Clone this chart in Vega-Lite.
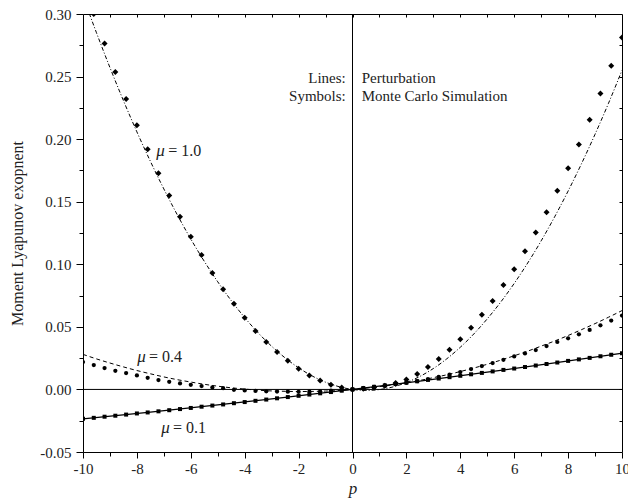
{
  "$schema": "https://vega.github.io/schema/vega-lite/v6.json",
  "width": 539,
  "height": 438,
  "autosize": "none",
  "padding": {"left": 83, "top": 14, "right": 6, "bottom": 50},
  "background": "white",
  "config": {
    "view": {"stroke": "black", "strokeWidth": 1},
    "axis": {"grid": false, "domain": false, "tickColor": "black", "tickWidth": 1, "labelFont": "Liberation Serif", "labelFontSize": 15, "labelColor": "#222", "titleFont": "Liberation Serif", "titleFontSize": 16, "titleFontWeight": "normal", "titleColor": "#222", "labelFlush": false, "labelOverlap": false}
  },
  "datasets": {
    "lines": [
      {"p": -10, "y": 0.3142, "mu": "1.0"}, {"p": -9.5, "y": 0.2850, "mu": "1.0"}, {"p": -9, "y": 0.2572, "mu": "1.0"}, {"p": -8.5, "y": 0.2308, "mu": "1.0"}, {"p": -8, "y": 0.2058, "mu": "1.0"}, {"p": -7.5, "y": 0.1823, "mu": "1.0"}, {"p": -7, "y": 0.1602, "mu": "1.0"}, {"p": -6.5, "y": 0.1395, "mu": "1.0"}, {"p": -6, "y": 0.1202, "mu": "1.0"}, {"p": -5.5, "y": 0.1024, "mu": "1.0"}, {"p": -5, "y": 0.0860, "mu": "1.0"}, {"p": -4.5, "y": 0.0710, "mu": "1.0"}, {"p": -4, "y": 0.0574, "mu": "1.0"}, {"p": -3.5, "y": 0.0452, "mu": "1.0"}, {"p": -3, "y": 0.0345, "mu": "1.0"}, {"p": -2.5, "y": 0.0252, "mu": "1.0"}, {"p": -2, "y": 0.0173, "mu": "1.0"}, {"p": -1.5, "y": 0.0108, "mu": "1.0"}, {"p": -1, "y": 0.0058, "mu": "1.0"}, {"p": -0.5, "y": 0.0022, "mu": "1.0"}, {"p": 0, "y": 0, "mu": "1.0"}, {"p": 0.5, "y": -0.0008, "mu": "1.0"}, {"p": 1, "y": -0.0001, "mu": "1.0"}, {"p": 1.5, "y": 0.0020, "mu": "1.0"}, {"p": 2, "y": 0.0055, "mu": "1.0"}, {"p": 2.5, "y": 0.0104, "mu": "1.0"}, {"p": 3, "y": 0.0167, "mu": "1.0"}, {"p": 3.5, "y": 0.0245, "mu": "1.0"}, {"p": 4, "y": 0.0337, "mu": "1.0"}, {"p": 4.5, "y": 0.0443, "mu": "1.0"}, {"p": 5, "y": 0.0564, "mu": "1.0"}, {"p": 5.5, "y": 0.0698, "mu": "1.0"}, {"p": 6, "y": 0.0847, "mu": "1.0"}, {"p": 6.5, "y": 0.1010, "mu": "1.0"}, {"p": 7, "y": 0.1187, "mu": "1.0"}, {"p": 7.5, "y": 0.1379, "mu": "1.0"}, {"p": 8, "y": 0.1585, "mu": "1.0"}, {"p": 8.5, "y": 0.1805, "mu": "1.0"}, {"p": 9, "y": 0.2039, "mu": "1.0"}, {"p": 9.5, "y": 0.2287, "mu": "1.0"}, {"p": 10, "y": 0.2550, "mu": "1.0"},
      {"p": -10, "y": 0.0280, "mu": "0.4"}, {"p": -9.5, "y": 0.0244, "mu": "0.4"}, {"p": -9, "y": 0.0211, "mu": "0.4"}, {"p": -8.5, "y": 0.0180, "mu": "0.4"}, {"p": -8, "y": 0.0151, "mu": "0.4"}, {"p": -7.5, "y": 0.0125, "mu": "0.4"}, {"p": -7, "y": 0.0100, "mu": "0.4"}, {"p": -6.5, "y": 0.0078, "mu": "0.4"}, {"p": -6, "y": 0.0059, "mu": "0.4"}, {"p": -5.5, "y": 0.0041, "mu": "0.4"}, {"p": -5, "y": 0.0026, "mu": "0.4"}, {"p": -4.5, "y": 0.0013, "mu": "0.4"}, {"p": -4, "y": 0.0003, "mu": "0.4"}, {"p": -3.5, "y": -0.0006, "mu": "0.4"}, {"p": -3, "y": -0.0012, "mu": "0.4"}, {"p": -2.5, "y": -0.0015, "mu": "0.4"}, {"p": -2, "y": -0.0017, "mu": "0.4"}, {"p": -1.5, "y": -0.0016, "mu": "0.4"}, {"p": -1, "y": -0.0013, "mu": "0.4"}, {"p": -0.5, "y": -0.0008, "mu": "0.4"}, {"p": 0, "y": 0, "mu": "0.4"}, {"p": 0.5, "y": 0.0010, "mu": "0.4"}, {"p": 1, "y": 0.0022, "mu": "0.4"}, {"p": 1.5, "y": 0.0037, "mu": "0.4"}, {"p": 2, "y": 0.0053, "mu": "0.4"}, {"p": 2.5, "y": 0.0072, "mu": "0.4"}, {"p": 3, "y": 0.0094, "mu": "0.4"}, {"p": 3.5, "y": 0.0117, "mu": "0.4"}, {"p": 4, "y": 0.0143, "mu": "0.4"}, {"p": 4.5, "y": 0.0171, "mu": "0.4"}, {"p": 5, "y": 0.0201, "mu": "0.4"}, {"p": 5.5, "y": 0.0234, "mu": "0.4"}, {"p": 6, "y": 0.0269, "mu": "0.4"}, {"p": 6.5, "y": 0.0306, "mu": "0.4"}, {"p": 7, "y": 0.0346, "mu": "0.4"}, {"p": 7.5, "y": 0.0387, "mu": "0.4"}, {"p": 8, "y": 0.0431, "mu": "0.4"}, {"p": 8.5, "y": 0.0478, "mu": "0.4"}, {"p": 9, "y": 0.0526, "mu": "0.4"}, {"p": 9.5, "y": 0.0577, "mu": "0.4"}, {"p": 10, "y": 0.0630, "mu": "0.4"},
      {"p": -10, "y": -0.0235, "mu": "0.1"}, {"p": -7.5, "y": -0.0181, "mu": "0.1"}, {"p": -5, "y": -0.0124, "mu": "0.1"}, {"p": -2.5, "y": -0.0064, "mu": "0.1"}, {"p": 0, "y": 0, "mu": "0.1"}, {"p": 2.5, "y": 0.0067, "mu": "0.1"}, {"p": 5, "y": 0.0138, "mu": "0.1"}, {"p": 7.5, "y": 0.0212, "mu": "0.1"}, {"p": 10, "y": 0.0290, "mu": "0.1"}
    ],
    "pts": [
      {"p": -9.6, "y": 0.300, "mu": "1.0"}, {"p": -9.2, "y": 0.2765, "mu": "1.0"}, {"p": -8.8, "y": 0.2536, "mu": "1.0"}, {"p": -8.4, "y": 0.232, "mu": "1.0"}, {"p": -8.0, "y": 0.2112, "mu": "1.0"}, {"p": -7.6, "y": 0.192, "mu": "1.0"}, {"p": -7.2, "y": 0.1728, "mu": "1.0"}, {"p": -6.8, "y": 0.155, "mu": "1.0"}, {"p": -6.4, "y": 0.138, "mu": "1.0"}, {"p": -6.0, "y": 0.122, "mu": "1.0"}, {"p": -5.6, "y": 0.1075, "mu": "1.0"}, {"p": -5.2, "y": 0.093, "mu": "1.0"}, {"p": -4.8, "y": 0.080, "mu": "1.0"}, {"p": -4.4, "y": 0.0685, "mu": "1.0"}, {"p": -4.0, "y": 0.0573, "mu": "1.0"}, {"p": -3.6, "y": 0.0467, "mu": "1.0"}, {"p": -3.2, "y": 0.0379, "mu": "1.0"}, {"p": -2.8, "y": 0.0299, "mu": "1.0"}, {"p": -2.4, "y": 0.0229, "mu": "1.0"}, {"p": -2.0, "y": 0.0165, "mu": "1.0"}, {"p": -1.6, "y": 0.0112, "mu": "1.0"}, {"p": -1.2, "y": 0.0072, "mu": "1.0"}, {"p": -0.8, "y": 0.0037, "mu": "1.0"}, {"p": -0.4, "y": 0.0016, "mu": "1.0"}, {"p": 0, "y": 0, "mu": "1.0"}, {"p": 0.4, "y": 0.0005, "mu": "1.0"}, {"p": 0.8, "y": 0.0015, "mu": "1.0"}, {"p": 1.2, "y": 0.003, "mu": "1.0"}, {"p": 1.6, "y": 0.0052, "mu": "1.0"}, {"p": 2.0, "y": 0.008, "mu": "1.0"}, {"p": 2.4, "y": 0.0123, "mu": "1.0"}, {"p": 2.8, "y": 0.0179, "mu": "1.0"}, {"p": 3.2, "y": 0.0243, "mu": "1.0"}, {"p": 3.6, "y": 0.0317, "mu": "1.0"}, {"p": 4.0, "y": 0.040, "mu": "1.0"}, {"p": 4.4, "y": 0.0493, "mu": "1.0"}, {"p": 4.8, "y": 0.0597, "mu": "1.0"}, {"p": 5.2, "y": 0.0707, "mu": "1.0"}, {"p": 5.6, "y": 0.0835, "mu": "1.0"}, {"p": 6.0, "y": 0.096, "mu": "1.0"}, {"p": 6.4, "y": 0.1104, "mu": "1.0"}, {"p": 6.8, "y": 0.1253, "mu": "1.0"}, {"p": 7.2, "y": 0.1416, "mu": "1.0"}, {"p": 7.6, "y": 0.1587, "mu": "1.0"}, {"p": 8.0, "y": 0.1767, "mu": "1.0"}, {"p": 8.4, "y": 0.1957, "mu": "1.0"}, {"p": 8.8, "y": 0.2155, "mu": "1.0"}, {"p": 9.2, "y": 0.2365, "mu": "1.0"}, {"p": 9.6, "y": 0.2587, "mu": "1.0"}, {"p": 10, "y": 0.2813, "mu": "1.0"},
      {"p": -10, "y": 0.0219, "mu": "0.4"}, {"p": -9.6, "y": 0.0195, "mu": "0.4"}, {"p": -9.2, "y": 0.0171, "mu": "0.4"}, {"p": -8.8, "y": 0.0149, "mu": "0.4"}, {"p": -8.4, "y": 0.0131, "mu": "0.4"}, {"p": -8.0, "y": 0.0112, "mu": "0.4"}, {"p": -7.6, "y": 0.0093, "mu": "0.4"}, {"p": -7.2, "y": 0.0075, "mu": "0.4"}, {"p": -6.8, "y": 0.0061, "mu": "0.4"}, {"p": -6.4, "y": 0.0048, "mu": "0.4"}, {"p": -6.0, "y": 0.0037, "mu": "0.4"}, {"p": -5.6, "y": 0.0027, "mu": "0.4"}, {"p": -5.2, "y": 0.0016, "mu": "0.4"}, {"p": -4.8, "y": 0.001, "mu": "0.4"}, {"p": -4.4, "y": -0.0003, "mu": "0.4"}, {"p": -4.0, "y": -0.0008, "mu": "0.4"}, {"p": -3.6, "y": -0.0012, "mu": "0.4"}, {"p": -3.2, "y": -0.0015, "mu": "0.4"}, {"p": -2.8, "y": -0.0017, "mu": "0.4"}, {"p": -2.4, "y": -0.0018, "mu": "0.4"}, {"p": -2.0, "y": -0.0019, "mu": "0.4"}, {"p": -1.6, "y": -0.0018, "mu": "0.4"}, {"p": -1.2, "y": -0.0015, "mu": "0.4"}, {"p": -0.8, "y": -0.0010, "mu": "0.4"}, {"p": -0.4, "y": -0.0005, "mu": "0.4"}, {"p": 0, "y": 0, "mu": "0.4"}, {"p": 0.4, "y": 0.0008, "mu": "0.4"}, {"p": 0.8, "y": 0.0018, "mu": "0.4"}, {"p": 1.2, "y": 0.003, "mu": "0.4"}, {"p": 1.6, "y": 0.0042, "mu": "0.4"}, {"p": 2.0, "y": 0.0053, "mu": "0.4"}, {"p": 2.4, "y": 0.0066, "mu": "0.4"}, {"p": 2.8, "y": 0.0083, "mu": "0.4"}, {"p": 3.2, "y": 0.0101, "mu": "0.4"}, {"p": 3.6, "y": 0.0119, "mu": "0.4"}, {"p": 4.0, "y": 0.0139, "mu": "0.4"}, {"p": 4.4, "y": 0.0163, "mu": "0.4"}, {"p": 4.8, "y": 0.0187, "mu": "0.4"}, {"p": 5.2, "y": 0.0211, "mu": "0.4"}, {"p": 5.6, "y": 0.0237, "mu": "0.4"}, {"p": 6.0, "y": 0.0264, "mu": "0.4"}, {"p": 6.4, "y": 0.0288, "mu": "0.4"}, {"p": 6.8, "y": 0.0315, "mu": "0.4"}, {"p": 7.2, "y": 0.0347, "mu": "0.4"}, {"p": 7.6, "y": 0.0379, "mu": "0.4"}, {"p": 8.0, "y": 0.0408, "mu": "0.4"}, {"p": 8.4, "y": 0.044, "mu": "0.4"}, {"p": 8.8, "y": 0.0475, "mu": "0.4"}, {"p": 9.2, "y": 0.0512, "mu": "0.4"}, {"p": 9.6, "y": 0.055, "mu": "0.4"}, {"p": 10, "y": 0.059, "mu": "0.4"},
      {"p": -10, "y": -0.0235, "mu": "0.1"}, {"p": -9.6, "y": -0.0227, "mu": "0.1"}, {"p": -9.2, "y": -0.0218, "mu": "0.1"}, {"p": -8.8, "y": -0.0210, "mu": "0.1"}, {"p": -8.4, "y": -0.0201, "mu": "0.1"}, {"p": -8.0, "y": -0.0192, "mu": "0.1"}, {"p": -7.6, "y": -0.0184, "mu": "0.1"}, {"p": -7.2, "y": -0.0175, "mu": "0.1"}, {"p": -6.8, "y": -0.0166, "mu": "0.1"}, {"p": -6.4, "y": -0.0157, "mu": "0.1"}, {"p": -6.0, "y": -0.0148, "mu": "0.1"}, {"p": -5.6, "y": -0.0138, "mu": "0.1"}, {"p": -5.2, "y": -0.0129, "mu": "0.1"}, {"p": -4.8, "y": -0.0120, "mu": "0.1"}, {"p": -4.4, "y": -0.0110, "mu": "0.1"}, {"p": -4.0, "y": -0.0101, "mu": "0.1"}, {"p": -3.6, "y": -0.0091, "mu": "0.1"}, {"p": -3.2, "y": -0.0081, "mu": "0.1"}, {"p": -2.8, "y": -0.0071, "mu": "0.1"}, {"p": -2.4, "y": -0.0061, "mu": "0.1"}, {"p": -2.0, "y": -0.0051, "mu": "0.1"}, {"p": -1.6, "y": -0.0041, "mu": "0.1"}, {"p": -1.2, "y": -0.0031, "mu": "0.1"}, {"p": -0.8, "y": -0.0021, "mu": "0.1"}, {"p": -0.4, "y": -0.0010, "mu": "0.1"}, {"p": 0, "y": 0, "mu": "0.1"}, {"p": 0.4, "y": 0.0011, "mu": "0.1"}, {"p": 0.8, "y": 0.0021, "mu": "0.1"}, {"p": 1.2, "y": 0.0032, "mu": "0.1"}, {"p": 1.6, "y": 0.0043, "mu": "0.1"}, {"p": 2.0, "y": 0.0054, "mu": "0.1"}, {"p": 2.4, "y": 0.0065, "mu": "0.1"}, {"p": 2.8, "y": 0.0076, "mu": "0.1"}, {"p": 3.2, "y": 0.0087, "mu": "0.1"}, {"p": 3.6, "y": 0.0098, "mu": "0.1"}, {"p": 4.0, "y": 0.0109, "mu": "0.1"}, {"p": 4.4, "y": 0.0121, "mu": "0.1"}, {"p": 4.8, "y": 0.0132, "mu": "0.1"}, {"p": 5.2, "y": 0.0144, "mu": "0.1"}, {"p": 5.6, "y": 0.0156, "mu": "0.1"}, {"p": 6.0, "y": 0.0167, "mu": "0.1"}, {"p": 6.4, "y": 0.0179, "mu": "0.1"}, {"p": 6.8, "y": 0.0191, "mu": "0.1"}, {"p": 7.2, "y": 0.0203, "mu": "0.1"}, {"p": 7.6, "y": 0.0215, "mu": "0.1"}, {"p": 8.0, "y": 0.0228, "mu": "0.1"}, {"p": 8.4, "y": 0.0240, "mu": "0.1"}, {"p": 8.8, "y": 0.0252, "mu": "0.1"}, {"p": 9.2, "y": 0.0265, "mu": "0.1"}, {"p": 9.6, "y": 0.0277, "mu": "0.1"}, {"p": 10, "y": 0.0290, "mu": "0.1"}
    ],
    "mulabels": [
      {"p": -7.28, "y": 0.1906, "text": "μ"},
      {"p": -7.99, "y": 0.0256, "text": "μ"},
      {"p": -7.1, "y": -0.0312, "text": "μ"}
    ],
    "vallabels": [
      {"p": -6.84, "y": 0.1906, "text": "= 1.0"},
      {"p": -7.55, "y": 0.0256, "text": "= 0.4"},
      {"p": -6.66, "y": -0.0312, "text": "= 0.1"}
    ],
    "leftnotes": [
      {"p": -0.25, "y": 0.2488, "text": "Lines:"},
      {"p": -0.25, "y": 0.2344, "text": "Symbols:"}
    ],
    "rightnotes": [
      {"p": 0.34, "y": 0.2488, "text": "Perturbation"},
      {"p": 0.34, "y": 0.2344, "text": "Monte Carlo Simulation"}
    ]
  },
  "resolve": {"axis": {"x": "independent", "y": "independent"}},
  "layer": [
    {
      "data": {"values": [{"p": 0}]},
      "mark": {"type": "rule", "color": "black", "strokeWidth": 1},
      "encoding": {"x": {"field": "p", "type": "quantitative", "scale": {"domain": [-10, 10], "nice": false, "zero": false}, "axis": null}}
    },
    {
      "data": {"values": [{"y": 0}]},
      "mark": {"type": "rule", "color": "black", "strokeWidth": 1},
      "encoding": {"y": {"field": "y", "type": "quantitative", "scale": {"domain": [-0.05, 0.3], "nice": false, "zero": false}, "axis": null}}
    },
    {
      "data": {"name": "lines"},
      "transform": [{"filter": "datum.mu === '1.0'"}],
      "mark": {"type": "line", "color": "black", "strokeWidth": 1, "strokeDash": [4, 2, 1, 2], "clip": true, "interpolate": "monotone"},
      "encoding": {
        "x": {"field": "p", "type": "quantitative", "scale": {"domain": [-10, 10], "nice": false, "zero": false},
          "axis": {"orient": "bottom", "values": [-10, -8, -6, -4, -2, 0, 2, 4, 6, 8, 10], "format": "d", "tickSize": 6, "labelPadding": 3, "title": "p", "titleFontStyle": "italic", "titleFontSize": 17, "titlePadding": 4, "labelExpr": "replace(datum.label, '\u2212', '-')"}},
        "y": {"field": "y", "type": "quantitative", "scale": {"domain": [-0.05, 0.3], "nice": false, "zero": false},
          "axis": {"orient": "left", "values": [-0.05, 0, 0.05, 0.1, 0.15, 0.2, 0.25, 0.3], "format": ".2f", "tickSize": 7, "labelPadding": 5, "title": "Moment Lyapunov exopnent", "titlePadding": 14, "labelExpr": "replace(datum.label, '\u2212', '-')"}}
      }
    },
    {
      "data": {"name": "lines"},
      "transform": [{"filter": "datum.mu === '0.4'"}],
      "mark": {"type": "line", "color": "black", "strokeWidth": 1, "strokeDash": [4, 3], "clip": true, "interpolate": "monotone"},
      "encoding": {
        "x": {"field": "p", "type": "quantitative", "scale": {"domain": [-10, 10], "nice": false, "zero": false},
          "axis": {"orient": "bottom", "values": [-9, -7, -5, -3, -1, 1, 3, 5, 7, 9], "tickSize": 4, "labels": false, "title": null}},
        "y": {"field": "y", "type": "quantitative", "scale": {"domain": [-0.05, 0.3], "nice": false, "zero": false},
          "axis": {"orient": "left", "values": [-0.025, 0.025, 0.075, 0.125, 0.175, 0.225, 0.275], "tickSize": 4, "labels": false, "title": null}}
      }
    },
    {
      "data": {"name": "lines"},
      "transform": [{"filter": "datum.mu === '0.1'"}],
      "mark": {"type": "line", "color": "black", "strokeWidth": 1.2, "clip": true, "interpolate": "monotone"},
      "encoding": {
        "x": {"field": "p", "type": "quantitative", "scale": {"domain": [-10, 10], "nice": false, "zero": false},
          "axis": {"orient": "top", "values": [-9, -8, -7, -6, -5, -4, -3, -2, -1, 0, 1, 2, 3, 4, 5, 6, 7, 8, 9], "tickSize": -3, "labels": false, "title": null}},
        "y": {"field": "y", "type": "quantitative", "scale": {"domain": [-0.05, 0.3], "nice": false, "zero": false},
          "axis": {"orient": "right", "values": [-0.025, 0, 0.025, 0.05, 0.075, 0.1, 0.125, 0.15, 0.175, 0.2, 0.225, 0.25, 0.275], "tickSize": -3, "labels": false, "title": null}}
      }
    },
    {
      "data": {"name": "pts"},
      "transform": [{"filter": "datum.mu === '1.0'"}],
      "mark": {"type": "point", "shape": "diamond", "filled": true, "color": "black", "opacity": 1, "size": 36, "clip": true},
      "encoding": {
        "x": {"field": "p", "type": "quantitative", "scale": {"domain": [-10, 10], "nice": false, "zero": false}, "axis": null},
        "y": {"field": "y", "type": "quantitative", "scale": {"domain": [-0.05, 0.3], "nice": false, "zero": false}, "axis": null}
      }
    },
    {
      "data": {"name": "pts"},
      "transform": [{"filter": "datum.mu === '0.4'"}],
      "mark": {"type": "point", "shape": "circle", "filled": true, "color": "black", "opacity": 1, "size": 18, "clip": true},
      "encoding": {
        "x": {"field": "p", "type": "quantitative", "scale": {"domain": [-10, 10], "nice": false, "zero": false}, "axis": null},
        "y": {"field": "y", "type": "quantitative", "scale": {"domain": [-0.05, 0.3], "nice": false, "zero": false}, "axis": null}
      }
    },
    {
      "data": {"name": "pts"},
      "transform": [{"filter": "datum.mu === '0.1'"}],
      "mark": {"type": "point", "shape": "square", "filled": true, "color": "black", "opacity": 1, "size": 16, "clip": true},
      "encoding": {
        "x": {"field": "p", "type": "quantitative", "scale": {"domain": [-10, 10], "nice": false, "zero": false}, "axis": null},
        "y": {"field": "y", "type": "quantitative", "scale": {"domain": [-0.05, 0.3], "nice": false, "zero": false}, "axis": null}
      }
    },
    {
      "data": {"name": "mulabels"},
      "mark": {"type": "text", "font": "Liberation Serif", "fontStyle": "italic", "fontSize": 17, "align": "left", "baseline": "middle", "color": "#222"},
      "encoding": {
        "x": {"field": "p", "type": "quantitative", "scale": {"domain": [-10, 10], "nice": false, "zero": false}, "axis": null},
        "y": {"field": "y", "type": "quantitative", "scale": {"domain": [-0.05, 0.3], "nice": false, "zero": false}, "axis": null},
        "text": {"field": "text"}
      }
    },
    {
      "data": {"name": "vallabels"},
      "mark": {"type": "text", "font": "Liberation Serif", "fontSize": 16, "align": "left", "baseline": "middle", "color": "#222"},
      "encoding": {
        "x": {"field": "p", "type": "quantitative", "scale": {"domain": [-10, 10], "nice": false, "zero": false}, "axis": null},
        "y": {"field": "y", "type": "quantitative", "scale": {"domain": [-0.05, 0.3], "nice": false, "zero": false}, "axis": null},
        "text": {"field": "text"}
      }
    },
    {
      "data": {"name": "leftnotes"},
      "mark": {"type": "text", "font": "Liberation Serif", "fontSize": 15, "align": "right", "baseline": "middle", "color": "#222"},
      "encoding": {
        "x": {"field": "p", "type": "quantitative", "scale": {"domain": [-10, 10], "nice": false, "zero": false}, "axis": null},
        "y": {"field": "y", "type": "quantitative", "scale": {"domain": [-0.05, 0.3], "nice": false, "zero": false}, "axis": null},
        "text": {"field": "text"}
      }
    },
    {
      "data": {"name": "rightnotes"},
      "mark": {"type": "text", "font": "Liberation Serif", "fontSize": 15, "align": "left", "baseline": "middle", "color": "#222"},
      "encoding": {
        "x": {"field": "p", "type": "quantitative", "scale": {"domain": [-10, 10], "nice": false, "zero": false}, "axis": null},
        "y": {"field": "y", "type": "quantitative", "scale": {"domain": [-0.05, 0.3], "nice": false, "zero": false}, "axis": null},
        "text": {"field": "text"}
      }
    }
  ]
}
